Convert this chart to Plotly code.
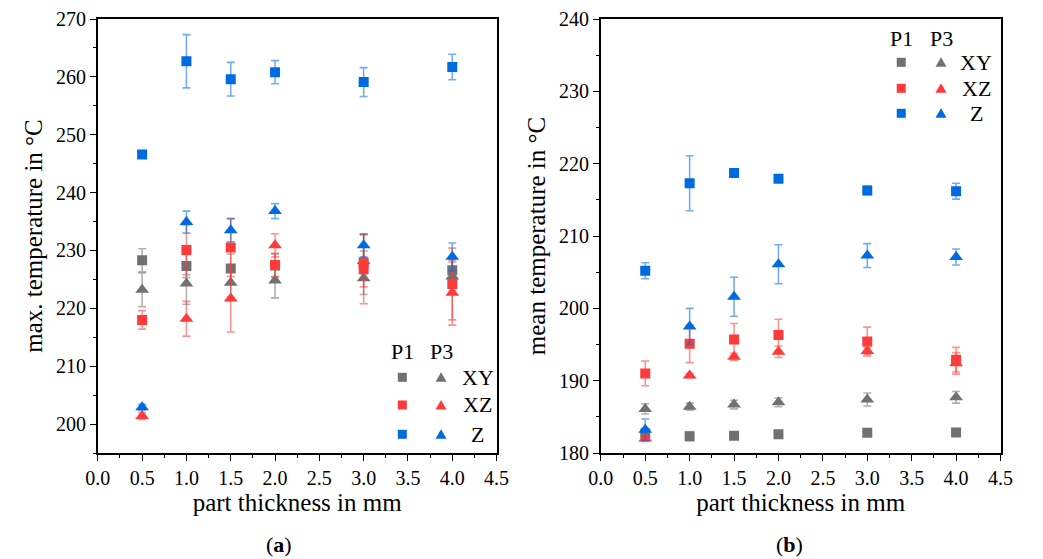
import plotly.graph_objects as go

# ---------------- data ----------------
thickness = [0.5, 1.0, 1.5, 2.0, 3.0, 4.0]

# (a) max. temperature
max_xy_p1 = [228.3, 227.3, 226.9, 227.4, 227.9, 226.6]
max_xy_p1_err = [2.0, 2.0, 2.5, 2.0, 2.0, 2.0]
max_xy_p3 = [223.2, 224.3, 224.4, 224.8, 225.2, 225.5]
max_xy_p3_err = [2.9, 3.6, 2.5, 3.0, 2.8, 2.5]
max_xz_p1 = [218.0, 230.1, 230.5, 227.5, 226.8, 224.2]
max_xz_p1_err = [1.6, 4.3, 5.0, 2.0, 6.0, 6.2]
max_xz_p3 = [201.4, 218.2, 221.7, 230.9, 228.2, 222.7]
max_xz_p3_err = [0.6, 3.0, 5.8, 2.0, 4.5, 5.6]
max_z_p1 = [246.6, 262.7, 259.6, 260.8, 259.1, 261.7]
max_z_p1_err = [0.5, 4.6, 2.9, 2.0, 2.5, 2.2]
max_z_p3 = [202.9, 234.9, 233.5, 236.8, 230.9, 228.9]
max_z_p3_err = [0.5, 1.9, 2.0, 1.3, 2.0, 2.4]

# (b) mean temperature
mean_xy_p1 = [182.7, 182.3, 182.4, 182.6, 182.8, 182.85]
mean_xy_p1_err = [0.7, 0.6, 0.5, 0.3, 0.3, 0.3]
mean_xy_p3 = [186.1, 186.4, 186.7, 187.0, 187.4, 187.7]
mean_xy_p3_err = [0.7, 0.5, 0.6, 0.6, 0.9, 0.8]
mean_xz_p1 = [191.0, 195.1, 195.7, 196.3, 195.4, 192.9]
mean_xz_p1_err = [1.7, 2.6, 2.2, 2.2, 2.0, 1.7]
mean_xz_p3 = [182.0, 190.7, 193.3, 194.0, 194.1, 192.4]
mean_xz_p3_err = [0.4, 0.3, 0.5, 0.8, 0.5, 1.5]
mean_z_p1 = [205.2, 217.3, 218.7, 217.9, 216.3, 216.2]
mean_z_p1_err = [1.1, 3.8, 0.5, 0.3, 0.6, 1.1]
mean_z_p3 = [183.2, 197.5, 201.6, 206.1, 207.3, 207.1]
mean_z_p3_err = [1.5, 2.5, 2.7, 2.7, 1.65, 1.1]

orientations = ["XY", "XZ", "Z"]
printers = ["P1", "P3"]
x_ticks = [0.0, 0.5, 1.0, 1.5, 2.0, 2.5, 3.0, 3.5, 4.0, 4.5]

# ---------------- style ----------------
FONT = "Liberation Serif"
colors = {"XY": "#717171", "XZ": "#ff3a3a", "Z": "#006ae0"}
err_colors = {"XY": "rgba(113,113,113,0.55)", "XZ": "rgba(255,58,58,0.55)",
              "Z": "rgba(0,106,224,0.55)"}
symbols = {"P1": "square", "P3": "triangle-up"}
sizes = {"P1": 10, "P3": 12}

fig = go.Figure()

panels = [
    ("x", "y", {
        ("XY", "P1"): (max_xy_p1, max_xy_p1_err),
        ("XY", "P3"): (max_xy_p3, max_xy_p3_err),
        ("XZ", "P1"): (max_xz_p1, max_xz_p1_err),
        ("XZ", "P3"): (max_xz_p3, max_xz_p3_err),
        ("Z", "P1"): (max_z_p1, max_z_p1_err),
        ("Z", "P3"): (max_z_p3, max_z_p3_err),
    }),
    ("x2", "y2", {
        ("XY", "P1"): (mean_xy_p1, mean_xy_p1_err),
        ("XY", "P3"): (mean_xy_p3, mean_xy_p3_err),
        ("XZ", "P1"): (mean_xz_p1, mean_xz_p1_err),
        ("XZ", "P3"): (mean_xz_p3, mean_xz_p3_err),
        ("Z", "P1"): (mean_z_p1, mean_z_p1_err),
        ("Z", "P3"): (mean_z_p3, mean_z_p3_err),
    }),
]

for xa, ya, series in panels:
    for o in orientations:
        for p in printers:
            vals, errs = series[(o, p)]
            fig.add_trace(go.Scatter(
                x=thickness, y=vals, mode="markers", xaxis=xa, yaxis=ya,
                name=f"{p} {o}", showlegend=False,
                marker=dict(symbol=symbols[p], size=sizes[p], color=colors[o],
                            line=dict(width=0)),
                error_y=dict(type="data", array=errs, visible=True,
                             color=err_colors[o], thickness=1.6, width=4),
            ))

axis_common = dict(
    showline=True, linecolor="black", linewidth=1.5, mirror=True,
    ticks="outside", ticklen=6, tickwidth=1.3, tickcolor="black",
    showgrid=False, zeroline=False,
    tickfont=dict(family=FONT, size=20, color="black"),
    title_font=dict(family=FONT, size=25, color="black"),
)

fig.update_layout(
    width=1043, height=559,
    margin=dict(l=0, r=0, t=19, b=106),
    paper_bgcolor="white", plot_bgcolor="white",
    font=dict(family=FONT, color="black"),
    xaxis=dict(domain=[0.0834, 0.4755], range=[0, 4.5], tickvals=x_ticks,
               ticktext=[f"{v:.1f}" for v in x_ticks],
               minor=dict(dtick=0.25, ticks="outside", ticklen=3, tickcolor="black"),
               title=dict(text="part thickness in mm", standoff=3), anchor="y",
               **axis_common),
    yaxis=dict(domain=[0, 1], range=[195, 270], dtick=10, tick0=200,
               minor=dict(dtick=5, ticks="outside", ticklen=3, tickcolor="black"),
               title=dict(text="max. temperature in °C", standoff=6), anchor="x",
               **axis_common),
    xaxis2=dict(domain=[0.578, 0.971], range=[0, 4.5], tickvals=x_ticks,
                ticktext=[f"{v:.1f}" for v in x_ticks],
                minor=dict(dtick=0.25, ticks="outside", ticklen=3, tickcolor="black"),
                title=dict(text="part thickness in mm", standoff=3), anchor="y2",
                **axis_common),
    yaxis2=dict(domain=[0, 1], range=[180, 240], dtick=10,
                minor=dict(dtick=5, ticks="outside", ticklen=3, tickcolor="black"),
                title=dict(text="mean temperature in °C", standoff=6), anchor="x2",
                **axis_common),
)

# ---------------- custom legends ----------------
legends = [
    dict(p1x=0.3828, p3x=0.4209, hy=0.2334, rows=[0.1744, 0.1106, 0.0431], tx=0.4571),
    dict(p1x=0.8734, p3x=0.9125, hy=0.9555, rows=[0.9002, 0.8403, 0.7827], tx=0.9473),
]
annotations = []
shapes = []
for lg in legends:
    for p, px in zip(printers, [lg["p1x"], lg["p3x"]]):
        annotations.append(dict(x=px, y=lg["hy"], xref="paper", yref="paper",
                                text=p, showarrow=False, xanchor="center", yanchor="middle",
                                font=dict(family=FONT, size=22, color="black")))
    for o, ry in zip(orientations, lg["rows"]):
        shapes.append(dict(type="rect", xref="paper", yref="paper",
                           xsizemode="pixel", ysizemode="pixel",
                           xanchor=lg["p1x"], yanchor=ry,
                           x0=-4.5, x1=4.5, y0=-4.5, y1=4.5,
                           fillcolor=colors[o], line=dict(width=0)))
        shapes.append(dict(type="path", xref="paper", yref="paper",
                           xsizemode="pixel", ysizemode="pixel",
                           xanchor=lg["p3x"], yanchor=ry,
                           path="M -5.5 -4.5 L 5.5 -4.5 L 0 5 Z",
                           fillcolor=colors[o], line=dict(width=0)))
        annotations.append(dict(x=lg["tx"], y=ry, xref="paper", yref="paper",
                                text=o, showarrow=False, xanchor="center", yanchor="middle",
                                font=dict(family=FONT, size=22, color="black")))

annotations.append(dict(x=0.2617, y=-0.2097, xref="paper", yref="paper",
                        text="(<b>a</b>)", showarrow=False,
                        xanchor="center", yanchor="middle",
                        font=dict(family=FONT, size=22, color="black")))
annotations.append(dict(x=0.764, y=-0.2097, xref="paper", yref="paper",
                        text="(<b>b</b>)", showarrow=False,
                        xanchor="center", yanchor="middle",
                        font=dict(family=FONT, size=22, color="black")))

fig.update_layout(annotations=annotations, shapes=shapes)

fig.write_html("out.html")
